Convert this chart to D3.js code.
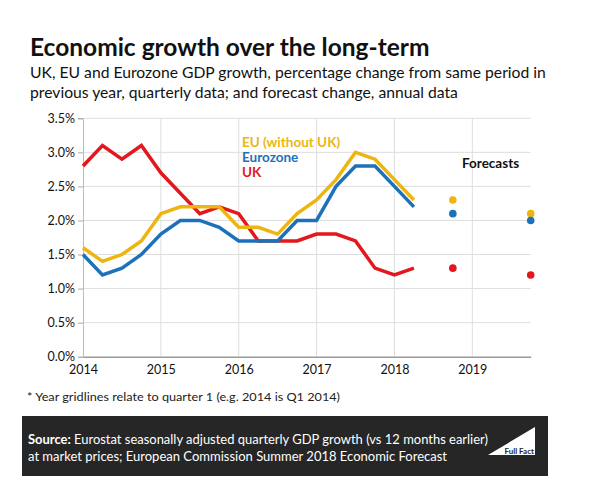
<!DOCTYPE html>
<html><head><meta charset="utf-8">
<script src="https://cdn.jsdelivr.net/npm/d3@7"></script>
<style>
body{margin:0;background:#fff;}
svg{display:block;font-family:Lato,"Open Sans",sans-serif;}
</style></head>
<body><svg id="c" width="590" height="500"></svg>
<script>
const quarters = [2014,2014.25,2014.5,2014.75,2015,2015.25,2015.5,2015.75,2016,2016.25,2016.5,2016.75,2017,2017.25,2017.5,2017.75,2018,2018.25];
const ukValues = [2.8,3.1,2.9,3.1,2.7,2.4,2.1,2.2,2.1,1.7,1.7,1.7,1.8,1.8,1.7,1.3,1.2,1.3];
const euValues = [1.6,1.4,1.5,1.7,2.1,2.2,2.2,2.2,1.9,1.9,1.8,2.1,2.3,2.6,3.0,2.9,2.6,2.3];
const ezValues = [1.5,1.2,1.3,1.5,1.8,2.0,2.0,1.9,1.7,1.7,1.7,2.0,2.0,2.5,2.8,2.8,2.5,2.2];
const forecastYears = [2018.75,2019.75];
const ukForecast = [1.3,1.2];
const euForecast = [2.3,2.1];
const ezForecast = [2.1,2.0];
const yearTicks = [2014,2015,2016,2017,2018,2019];
const pctTicks = [0,0.5,1,1.5,2,2.5,3,3.5];
const seriesNames = ["EU (without UK)","Eurozone","UK"];

const colors = {uk:"#E3171D", eu:"#EDB50F", ez:"#1C72BA"};
const svg = d3.select("#c");
const x = d3.scaleLinear().domain([2014,2019.75]).range([83,530.7]);
const y = d3.scaleLinear().domain([0,3.5]).range([356.7,118.3]);

// title
svg.append("text").attr("x",30).attr("y",55.5).attr("font-size",24.5).attr("font-weight",700).attr("fill","#111").text("Economic growth over the long-term");
svg.append("text").attr("x",30).attr("y",78).attr("font-size",15.7).attr("fill","#111").text("UK, EU and Eurozone GDP growth, percentage change from same period in");
svg.append("text").attr("x",30).attr("y",98).attr("font-size",15.7).attr("fill","#111").text("previous year, quarterly data; and forecast change, annual data");

// grid
const g = svg.append("g");
g.selectAll("line.h").data(pctTicks.filter(d=>d>0)).join("line")
 .attr("x1",x(2014)).attr("x2",x(2019.75)).attr("y1",d=>y(d)).attr("y2",d=>y(d))
 .attr("stroke","#dedede").attr("stroke-width",1);
g.selectAll("line.v").data(yearTicks.filter(d=>d>2014)).join("line")
 .attr("x1",d=>x(d)).attr("x2",d=>x(d)).attr("y1",y(3.5)).attr("y2",y(0))
 .attr("stroke","#dedede").attr("stroke-width",1);

// axes
const yAxis = d3.axisLeft(y).tickValues(pctTicks).tickSize(5).tickPadding(3).tickFormat(d=>d.toFixed(1)+"%");
const ya = svg.append("g").attr("transform",`translate(${x(2014)},0)`).call(yAxis);
ya.select(".domain").attr("stroke","#bbb").attr("stroke-width",1);
ya.selectAll(".tick line").attr("stroke","#aaa");
ya.selectAll("text").attr("font-size",12.5).attr("fill","#111").attr("font-family","Lato,sans-serif");

const xAxis = d3.axisBottom(x).tickValues(yearTicks).tickSize(0).tickPadding(8).tickFormat(d3.format("d"));
const xa = svg.append("g").attr("transform",`translate(0,${y(0)})`).call(xAxis);
xa.select(".domain").attr("stroke","#999").attr("stroke-width",1.5);
xa.selectAll("text").attr("font-size",12.5).attr("fill","#111").attr("font-family","Lato,sans-serif");

// lines
const line = d3.line().x((d,i)=>x(quarters[i])).y(d=>y(d));
[[ukValues,colors.uk],[euValues,colors.eu],[ezValues,colors.ez]].forEach(([v,c])=>{
  svg.append("path").datum(v).attr("d",line).attr("fill","none").attr("stroke",c)
   .attr("stroke-width",3.5).attr("stroke-linejoin","miter");
});

// forecasts
[[euForecast,colors.eu],[ezForecast,colors.ez],[ukForecast,colors.uk]].forEach(([v,c])=>{
  svg.append("g").selectAll("circle").data(v).join("circle")
   .attr("cx",(d,i)=>x(forecastYears[i])).attr("cy",d=>y(d)).attr("r",3.8).attr("fill",c);
});

// legend
const legColors = [colors.eu,colors.ez,colors.uk];
svg.append("g").selectAll("text").data(seriesNames).join("text")
 .attr("x",242).attr("y",(d,i)=>147+i*15).attr("font-size",13.5).attr("font-weight",700)
 .attr("fill",(d,i)=>legColors[i]).text(d=>d);
svg.append("text").attr("x",462).attr("y",168).attr("font-size",13.5).attr("font-weight",700).attr("fill","#111").text("Forecasts");

// footnote
svg.append("text").attr("x",27).attr("y",401).attr("font-size",12).attr("fill","#222")
  .attr("textLength",313).attr("lengthAdjust","spacingAndGlyphs")
  .text("* Year gridlines relate to quarter 1 (e.g. 2014 is Q1 2014)");

// source box
svg.append("rect").attr("x",22).attr("y",416).attr("width",526).attr("height",60).attr("fill","#262626");
const s1 = svg.append("text").attr("x",28).attr("y",444).attr("font-size",13).attr("fill","#fff")
  .attr("textLength",460).attr("lengthAdjust","spacingAndGlyphs");
s1.append("tspan").attr("font-weight",700).text("Source: ");
s1.append("tspan").text("Eurostat seasonally adjusted quarterly GDP growth (vs 12 months earlier)");
svg.append("text").attr("x",28).attr("y",461).attr("font-size",13).attr("fill","#fff")
  .attr("textLength",419).attr("lengthAdjust","spacingAndGlyphs")
  .text("at market prices; European Commission Summer 2018 Economic Forecast");
svg.append("path").attr("d","M488,455 L535,427 L535,455 Z").attr("fill","#fff");
svg.append("text").attr("x",534).attr("y",454).attr("text-anchor","end").attr("font-size",8).attr("font-weight",700)
  .attr("fill","#262626").text("Full Fact");
</script></body></html>
